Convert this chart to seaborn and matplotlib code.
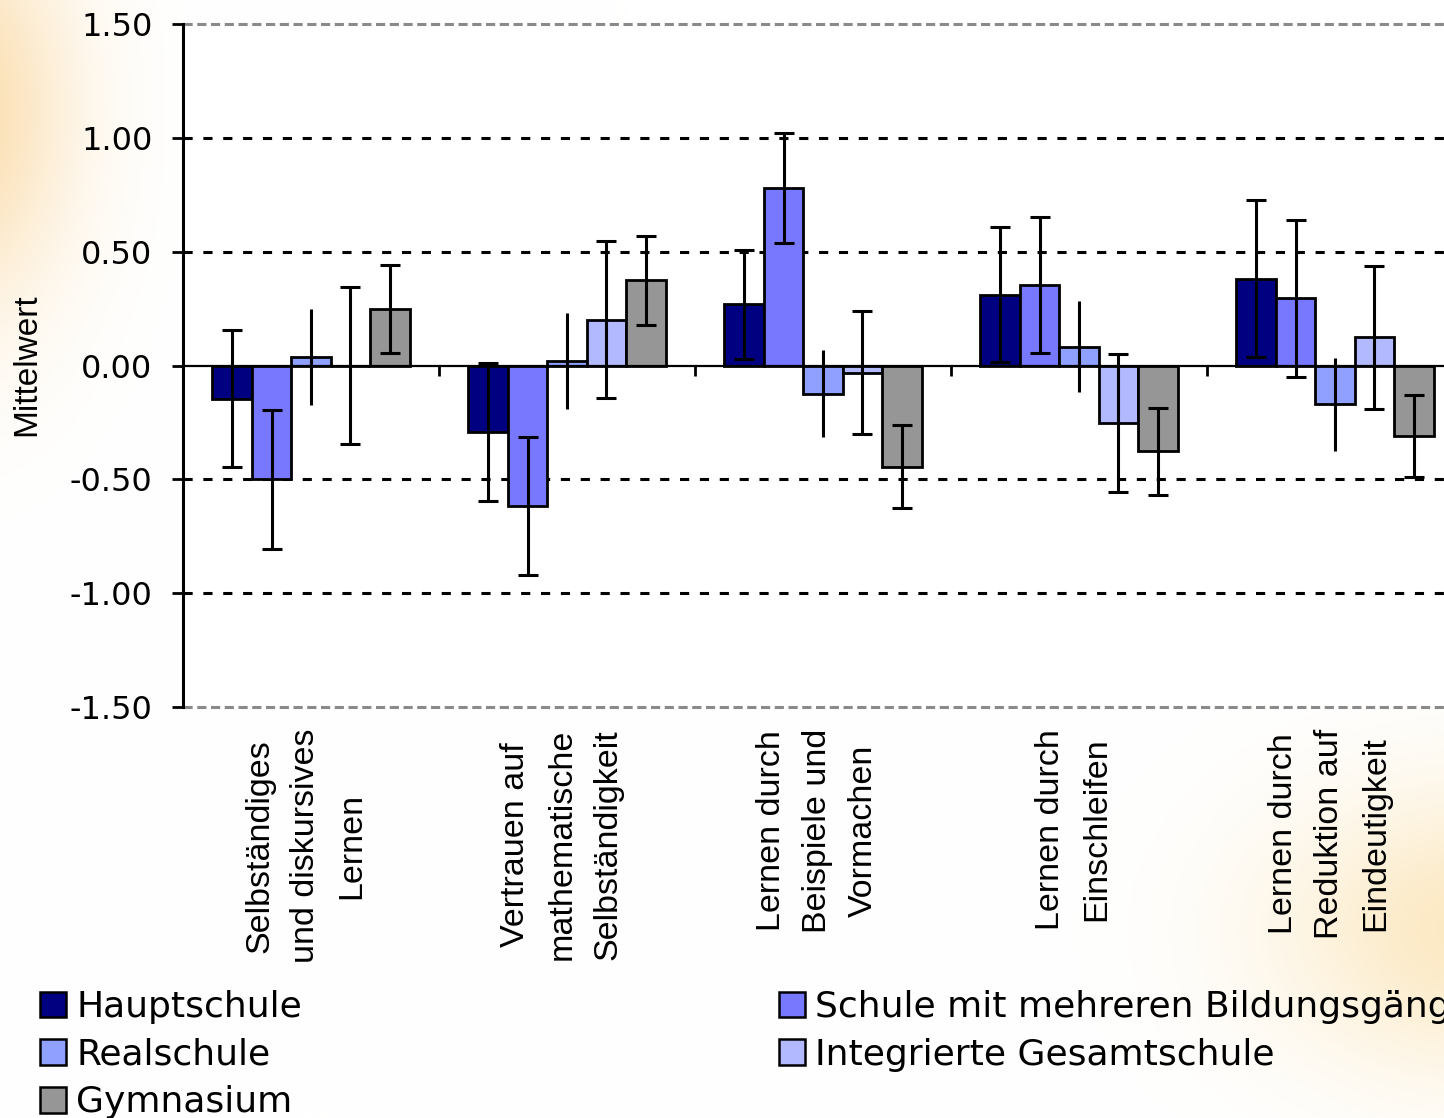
import numpy as np
import pandas as pd
import matplotlib
matplotlib.use("Agg")
import matplotlib.pyplot as plt
import seaborn as sns

# ---------------- data ----------------
categories = [
    "Selbständiges\nund diskursives\nLernen",
    "Vertrauen auf\nmathematische\nSelbständigkeit",
    "Lernen durch\nBeispiele und\nVormachen",
    "Lernen durch\nEinschleifen",
    "Lernen durch\nReduktion auf\nEindeutigkeit",
]
schools = ["Hauptschule", "Schule mit mehreren Bildungsgängen", "Realschule",
           "Integrierte Gesamtschule", "Gymnasium"]

hauptschule = [-0.145, -0.292, 0.268, 0.311, 0.382]
mehrere_bg = [-0.500, -0.617, 0.779, 0.355, 0.295]
realschule = [0.036, 0.019, -0.124, 0.082, -0.171]
gesamtschule = [0.000, 0.202, -0.032, -0.254, 0.123]
gymnasium = [0.249, 0.374, -0.444, -0.377, -0.310]

hauptschule_err = [0.300, 0.305, 0.240, 0.296, 0.345]
mehrere_bg_err = [0.305, 0.304, 0.243, 0.298, 0.346]
realschule_err = [0.210, 0.210, 0.190, 0.200, 0.203]
gesamtschule_err = [0.345, 0.345, 0.270, 0.303, 0.315]
gymnasium_err = [0.193, 0.194, 0.183, 0.190, 0.180]

yticks = [-1.5, -1.0, -0.5, 0.0, 0.5, 1.0, 1.5]
yticklabels = ["-1.50", "-1.00", "-0.50", "0.00", "0.50", "1.00", "1.50"]

colors = ["#000080", "#7878FF", "#8FA0FF", "#B3B9FF", "#969696"]

series = [hauptschule, mehrere_bg, realschule, gesamtschule, gymnasium]
errs = [hauptschule_err, mehrere_bg_err, realschule_err, gesamtschule_err, gymnasium_err]

rows = []
for s, vals, es in zip(schools, series, errs):
    for c, v, e in zip(categories, vals, es):
        rows.append({"Skala": c, "Schulform": s, "Mittelwert": v, "err": e})
df = pd.DataFrame(rows)

# ---------------- style ----------------
sns.set_style("white")
plt.rcParams["font.family"] = ["DejaVu Sans"]
for k in ["text.color", "axes.labelcolor", "xtick.color", "ytick.color", "axes.edgecolor"]:
    plt.rcParams[k] = "black"

W, H = 1444, 1118
fig = plt.figure(figsize=(W / 100, H / 100), dpi=100)
fig.patch.set_facecolor("white")

# background glow
bg = fig.add_axes([0, 0, 1, 1], zorder=-10)
yy, xx = np.mgrid[0:H, 0:W].astype(float)
img = np.ones((H, W, 3))
def glow(x0, y0, sx, sy, col, amax):
    a = amax * np.exp(-((xx - x0) / sx) ** 2 - ((yy - y0) / sy) ** 2)
    c = np.array(col) / 255.0
    return a[..., None], c
for (x0, y0, sx, sy, col, amax) in [(-40, 110, 110, 200, (248, 195, 110), 0.55),
                                     (1480, 930, 200, 140, (248, 205, 120), 0.45)]:
    a, c = glow(x0, y0, sx, sy, col, amax)
    img = img * (1 - a) + c * a
bg.imshow(img, extent=[0, 1, 0, 1], aspect="auto", origin="upper")
bg.axis("off")

ax_left = 183 / W
ax_w = 1280 / W
ax_bottom = 1 - 707 / H
ax_h = 683 / H
ax = fig.add_axes([ax_left, ax_bottom, ax_w, ax_h], zorder=1)
ax.set_facecolor("white")

sns.barplot(data=df, x="Skala", y="Mittelwert", hue="Schulform",
            order=categories, hue_order=schools, palette=colors, saturation=1,
            width=0.77, edgecolor="black", linewidth=2.0,
            errorbar=None, legend=False, ax=ax, zorder=3)

bar_containers = list(ax.containers)

# error bars
for i, cont in enumerate(bar_containers):
    xs = [p.get_x() + p.get_width() / 2 for p in cont]
    cap = 0 if schools[i] == "Realschule" else 7
    ax.errorbar(xs, series[i], yerr=errs[i], fmt="none", ecolor="black",
                elinewidth=2.2, capsize=cap, capthick=2.2, zorder=4)

ax.set_xlim(-0.5, len(categories) - 0.5)
ax.set_ylim(-1.5, 1.5)

# grid lines
for yv in [1.0, 0.5, -0.5, -1.0]:
    ax.axhline(yv, color="black", lw=2.2, linestyle=(0, (3, 3.5)), zorder=1)
for yv in [1.5, -1.5]:
    ax.axhline(yv, color="#8a8a8a", lw=2.2, linestyle=(0, (3, 1.5)), zorder=1, clip_on=False)

for sp in ["top", "right"]:
    ax.spines[sp].set_visible(False)
ax.spines["left"].set_linewidth(2.2)
ax.spines["left"].set_color("black")
ax.spines["bottom"].set_position(("data", 0))
ax.spines["bottom"].set_linewidth(1.6)
ax.spines["bottom"].set_color("black")
ax.spines["bottom"].set_zorder(5)

ax.set_yticks(yticks)
ax.set_yticklabels(yticklabels, fontsize=23, family="DejaVu Sans", color="black")
ax.tick_params(axis="y", direction="out", length=8, width=2, pad=14, left=True)
ax.set_xticks([i + 0.5 for i in range(len(categories) - 1)])
ax.set_xticklabels([])
ax.tick_params(axis="x", direction="out", length=7, width=2, bottom=True)
ax.set_xlabel("")
ax.set_ylabel("")

# category labels
trans = ax.get_xaxis_transform()
for i, c in enumerate(categories):
    ax.text(i - 0.02, -0.032, c, transform=trans, rotation=90, ha="center", va="top",
            multialignment="center", fontsize=24.5, family="Liberation Sans",
            linespacing=1.62, color="black")

fig.text(27 / W, 1 - 365 / H, "Mittelwert", rotation=90, ha="center", va="center",
         fontsize=24, family="Liberation Sans", color="black")

# legend
order = [0, 2, 4, 1, 3]
handles = [bar_containers[i][0] for i in order]
leg = fig.legend(handles, [schools[i] for i in order],
                 ncol=2, loc="upper left", bbox_to_anchor=(40 / W, 1 - 990 / H),
                 frameon=False, borderpad=0, borderaxespad=0,
                 handlelength=0.72, handleheight=0.72, handletextpad=0.28,
                 columnspacing=13.2, labelspacing=0.38,
                 prop={"family": "DejaVu Sans", "size": 26})
for t in leg.get_texts():
    t.set_color("black")
for p in leg.get_patches():
    p.set_linewidth(1.8)
    p.set_edgecolor("black")

fig.savefig("out.png", dpi=100, facecolor=fig.get_facecolor())
